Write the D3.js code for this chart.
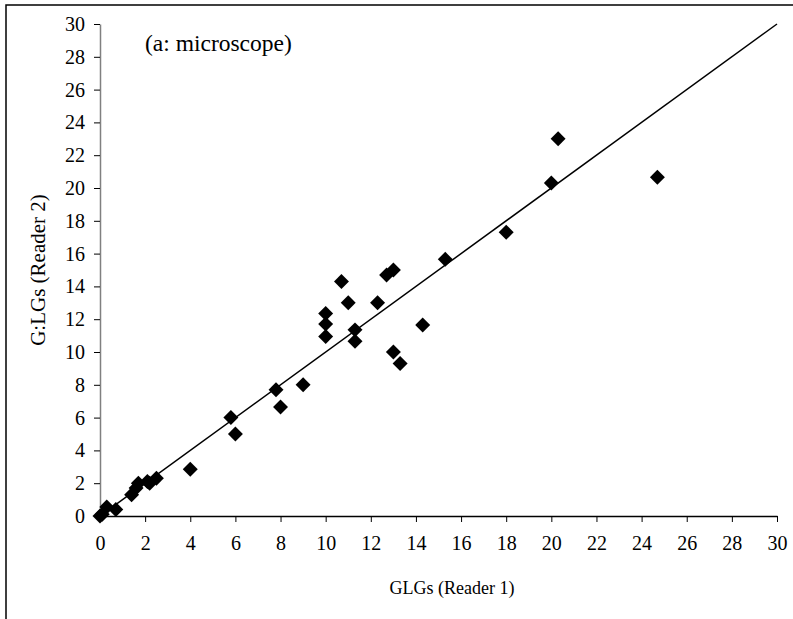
<!DOCTYPE html>
<html>
<head>
<meta charset="utf-8">
<script src="https://cdn.jsdelivr.net/npm/d3@7"></script>
<style>
  body { margin: 0; background: #fff; }
  svg { display: block; }
</style>
</head>
<body>
<div id="chart"></div>
<script>
// Reader 1 counts (x) and Reader 2 counts (y)
const reader1 = [0, 0.1, 0.3, 0.7, 1.4, 1.6, 1.7, 2.1, 2.2, 2.5,
                 4.0, 5.8, 6.0, 7.8, 8.0, 9.0, 10.0, 10.0, 10.0, 10.7,
                 11.0, 11.3, 11.3, 12.3, 12.7, 13.0, 13.0, 13.3, 14.3, 15.3,
                 18.0, 20.0, 20.3, 24.7];
const reader2 = [0, 0.1, 0.55, 0.4, 1.3, 1.7, 2.0, 2.1, 2.0, 2.3,
                 2.85, 6.0, 5.0, 7.7, 6.65, 8.0, 12.35, 11.7, 10.95, 14.3,
                 13.0, 11.35, 10.65, 13.0, 14.7, 15.0, 10.0, 9.3, 11.65, 15.65,
                 17.3, 20.3, 23.0, 20.65];
const xTicks = d3.range(0, 31, 2);
const yTicks = d3.range(0, 31, 2);
const lineEnds = [0, 30];

const width = 793, height = 619;
const margin = {left: 100, right: 16, top: 24, bottom: 103};
const serif = '"Liberation Serif", "Times New Roman", Times, serif';

const svg = d3.select('#chart')
    .append('svg')
    .attr('width', width)
    .attr('height', height);

// outer frame (runs off the right and bottom edges)
svg.append('rect')
    .attr('x', 6).attr('y', 5)
    .attr('width', 900).attr('height', 900)
    .attr('fill', 'none')
    .attr('stroke', '#000')
    .attr('stroke-width', 1.5);

const x = d3.scaleLinear().domain([0, 30]).range([margin.left, width - margin.right]);
const y = d3.scaleLinear().domain([0, 30]).range([height - margin.bottom, margin.top]);

// x axis
const gx = svg.append('g')
    .attr('transform', `translate(0,${y(0)})`)
    .call(d3.axisBottom(x).tickValues(xTicks).tickSize(6).tickPadding(14).tickSizeOuter(0))
    .attr('font-family', serif);
gx.select('.domain').attr('stroke', '#000').attr('stroke-width', 1.3);
gx.selectAll('.tick line').attr('stroke', '#000');
gx.selectAll('.tick text').style('font-family', serif).style('font-size', '20px');

// y axis (grey spine)
const gy = svg.append('g')
    .attr('transform', `translate(${x(0)},0)`)
    .call(d3.axisLeft(y).tickValues(yTicks).tickSize(6).tickPadding(9).tickSizeOuter(0))
    .attr('font-family', serif);
gy.select('.domain').attr('stroke', '#808080').attr('stroke-width', 1.5);
gy.selectAll('.tick line').attr('stroke', '#000');
gy.selectAll('.tick text').style('font-family', serif).style('font-size', '20px');

// 1:1 line
svg.append('line')
    .attr('x1', x(lineEnds[0])).attr('y1', y(lineEnds[0]))
    .attr('x2', x(lineEnds[1])).attr('y2', y(lineEnds[1]))
    .attr('stroke', '#000')
    .attr('stroke-width', 1.5);

// points as diamonds
const diamond = d3.symbol().type(d3.symbolSquare).size(112);
svg.append('g')
    .selectAll('path')
    .data(reader1.map((v, i) => [v, reader2[i]]))
    .enter()
    .append('path')
    .attr('d', diamond)
    .attr('transform', d => `translate(${x(d[0])},${y(d[1])}) rotate(45)`)
    .attr('fill', '#000');

// titles
svg.append('text')
    .attr('x', 452)
    .attr('y', 594)
    .attr('text-anchor', 'middle')
    .style('font-family', serif)
    .style('font-size', '18px')
    .text('GLGs (Reader 1)');

svg.append('text')
    .attr('transform', `translate(45,270) rotate(-90)`)
    .attr('text-anchor', 'middle')
    .style('font-family', serif)
    .style('font-size', '21px')
    .text('G:LGs (Reader 2)');

svg.append('text')
    .attr('x', 145)
    .attr('y', 51)
    .style('font-family', serif)
    .style('font-size', '23.5px')
    .text('(a: microscope)');
</script>
</body>
</html>
